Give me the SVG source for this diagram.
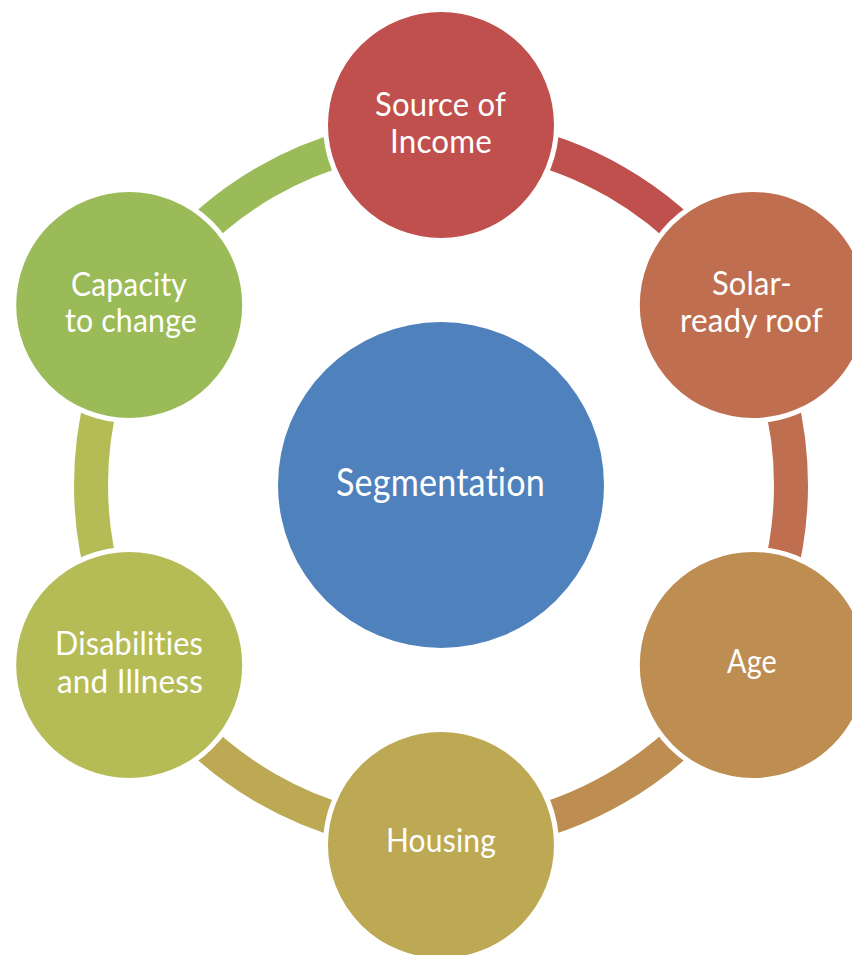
<svg xmlns="http://www.w3.org/2000/svg" width="852" height="955" viewBox="0 0 852 955">
<style>
.band{fill:none;stroke-width:34;stroke-linecap:butt}
.node{stroke:#FFFFFF;stroke-width:5}
.lbl{font-family:Lato,"Open Sans","Liberation Sans",sans-serif;font-size:32px;fill:#FFFFFF;text-anchor:middle;font-variant-ligatures:none;font-feature-settings:"liga" 0,"clig" 0;letter-spacing:0.2px}
.ctr{font-size:39px}
</style>
<rect width="852" height="955" fill="#FFFFFF"/>
<g id="connectors">
<path class="band" stroke="#C0504D" d="M441,135 A350,350 0 0 1 744.1,310"/>
<path class="band" stroke="#BF6F4F" d="M744.1,310 A350,350 0 0 1 744.1,660"/>
<path class="band" stroke="#BE8D52" d="M744.1,660 A350,350 0 0 1 441,835"/>
<path class="band" stroke="#BDA954" d="M441,835 A350,350 0 0 1 137.9,660"/>
<path class="band" stroke="#B5BC56" d="M137.9,660 A350,350 0 0 1 137.9,310"/>
<path class="band" stroke="#9BBB59" d="M137.9,310 A350,350 0 0 1 441,135"/>
</g>
<g id="segmentation">
<circle cx="441" cy="485" r="163" fill="#4F81BD"/>
<text class="lbl ctr" x="440.5" y="496" textLength="209" lengthAdjust="spacingAndGlyphs">Segmentation</text>
</g>
<g id="source-of-income">
<circle class="node" cx="441" cy="125" r="115.5" fill="#C0504D"/>
<text class="lbl" x="440.5" y="116" textLength="131" lengthAdjust="spacingAndGlyphs">Source of</text>
<text class="lbl" x="441" y="153" textLength="102" lengthAdjust="spacingAndGlyphs">Income</text>
</g>
<g id="solar-ready-roof">
<circle class="node" cx="752.8" cy="305" r="115.5" fill="#BF6F4F"/>
<text class="lbl" x="752" y="295" textLength="80" lengthAdjust="spacingAndGlyphs">Solar-</text>
<text class="lbl" x="751.5" y="332" textLength="143" lengthAdjust="spacingAndGlyphs">ready roof</text>
</g>
<g id="age">
<circle class="node" cx="752.8" cy="665" r="115.5" fill="#BE8D52"/>
<text class="lbl" x="752" y="673" textLength="50" lengthAdjust="spacingAndGlyphs">Age</text>
</g>
<g id="housing">
<circle class="node" cx="441" cy="845" r="115.5" fill="#BDA954"/>
<text class="lbl" x="441" y="852" textLength="110" lengthAdjust="spacingAndGlyphs">Housing</text>
</g>
<g id="disabilities-and-illness">
<circle class="node" cx="129.2" cy="665" r="115.5" fill="#B5BC56"/>
<text class="lbl" x="129" y="655" textLength="148" lengthAdjust="spacingAndGlyphs">Disabilities</text>
<text class="lbl" x="130" y="693" textLength="146" lengthAdjust="spacingAndGlyphs">and Illness</text>
</g>
<g id="capacity-to-change">
<circle class="node" cx="129.2" cy="305" r="115.5" fill="#9BBB59"/>
<text class="lbl" x="129" y="296" textLength="116" lengthAdjust="spacingAndGlyphs">Capacity</text>
<text class="lbl" x="131" y="332" textLength="132" lengthAdjust="spacingAndGlyphs">to change</text>
</g>
</svg>
